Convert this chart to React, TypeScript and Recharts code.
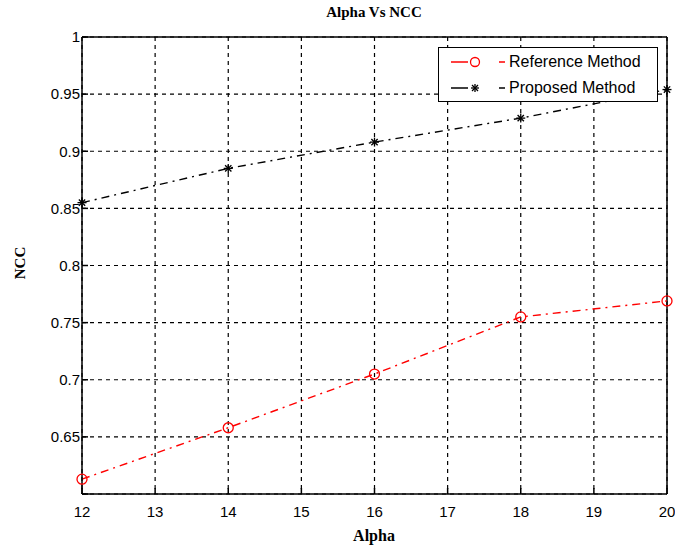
import React from 'react';
import { LineChart, Line, XAxis, YAxis, CartesianGrid, ReferenceLine, Legend } from 'recharts';

const alpha = [12, 14, 16, 18, 20];
const referenceMethod = [0.613, 0.658, 0.705, 0.755, 0.769];
const proposedMethod = [0.855, 0.885, 0.908, 0.929, 0.954];
const xTicks = [12, 13, 14, 15, 16, 17, 18, 19, 20];
const yTicks = [0.6, 0.65, 0.7, 0.75, 0.8, 0.85, 0.9, 0.95, 1];

const data = alpha.map((a, i) => ({ alpha: a, ref: referenceMethod[i], prop: proposedMethod[i] }));

const SANS = 'Liberation Sans, Arial, sans-serif';
const SERIF = 'Liberation Serif, Times New Roman, serif';

const CircleDot = (props: any) => {
  const { cx, cy } = props;
  if (cx == null || cy == null) return null;
  return <circle cx={cx} cy={cy} r={5} fill="none" stroke="#ff0000" strokeWidth={1.3} />;
};

const StarDot = (props: any) => {
  const { cx, cy } = props;
  if (cx == null || cy == null) return null;
  const r = 4.5;
  const d = r * 0.7;
  return (
    <g stroke="#000" strokeWidth={1.3}>
      <line x1={cx - r} y1={cy} x2={cx + r} y2={cy} />
      <line x1={cx} y1={cy - r} x2={cx} y2={cy + r} />
      <line x1={cx - d} y1={cy - d} x2={cx + d} y2={cy + d} />
      <line x1={cx - d} y1={cy + d} x2={cx + d} y2={cy - d} />
    </g>
  );
};

const LegendBox = () => (
  <div style={{ position: 'absolute', left: 438, top: 47, width: 220, height: 55, border: '1.5px solid #000', background: '#fff', fontFamily: SANS, fontSize: 16, color: '#000', boxSizing: 'border-box' }}>
    {[{ c: '#ff0000', t: 'Reference Method', m: 'o' }, { c: '#000', t: 'Proposed Method', m: '*' }].map((it, i) => (
      <div key={i} style={{ position: 'absolute', left: 10, top: 4 + i * 26, height: 20, display: 'flex', alignItems: 'center', whiteSpace: 'nowrap' }}>
        <svg width={60} height={20}>
          <line x1={2} y1={10} x2={19} y2={10} stroke={it.c} strokeWidth={1.5} />
          {it.m === 'o' ? (
            <circle cx={26} cy={10} r={4.5} fill="none" stroke={it.c} strokeWidth={1.3} />
          ) : (
            <g stroke={it.c} strokeWidth={1.3}>
              <line x1={22} y1={10} x2={30} y2={10} />
              <line x1={26} y1={6} x2={26} y2={14} />
              <line x1={23} y1={7} x2={29} y2={13} />
              <line x1={23} y1={13} x2={29} y2={7} />
            </g>
          )}
          <line x1={50} y1={10} x2={56} y2={10} stroke={it.c} strokeWidth={1.5} />
        </svg>
        <span>{it.t}</span>
      </div>
    ))}
  </div>
);

const fmt = (v: number) => (v === 0.6 ? '' : String(Number(v.toFixed(2))));

export default function App() {
  return (
    <div style={{ position: 'absolute', left: 0, top: 0, width: 675, height: 551, background: '#fff' }}>
      <LineChart width={675} height={551} data={data} margin={{ top: 37, right: 8, bottom: 0, left: 22 }}>
        <CartesianGrid stroke="#000" strokeDasharray="4 4" strokeWidth={1.2} vertical horizontal />
        <XAxis dataKey="alpha" type="number" domain={[12, 20]} ticks={xTicks} interval={0} height={57}
          stroke="#000" strokeWidth={1.5} tickSize={-6} tick={{ fill: '#000', fontSize: 15, fontFamily: SANS, dy: 16 }} />
        <YAxis type="number" domain={[0.6, 1]} ticks={yTicks} interval={0} width={60} tickFormatter={fmt}
          stroke="#000" strokeWidth={1.5} tickSize={-6} tick={{ fill: '#000', fontSize: 15, fontFamily: SANS, dx: -6 }} />
        <ReferenceLine y={1} stroke="#000" strokeWidth={1.5} />
        <ReferenceLine x={20} stroke="#000" strokeWidth={1.5} />
        <Line dataKey="ref" stroke="#ff0000" strokeWidth={1.4} strokeDasharray="8 5 2 5" dot={<CircleDot />} isAnimationActive={false} />
        <Line dataKey="prop" stroke="#000" strokeWidth={1.4} strokeDasharray="8 5 2 5" dot={<StarDot />} isAnimationActive={false} />
        <Legend content={() => null} />
      </LineChart>
      <div style={{ position: 'absolute', left: 274, top: 4, width: 200, textAlign: 'center', fontFamily: SERIF, fontSize: 15, fontWeight: 'bold' }}>Alpha Vs NCC</div>
      <div style={{ position: 'absolute', left: 274, top: 527, width: 200, textAlign: 'center', fontFamily: SERIF, fontSize: 16, fontWeight: 'bold' }}>Alpha</div>
      <div style={{ position: 'absolute', left: 20 - 50, top: 263 - 9, width: 100, height: 18, lineHeight: '18px', textAlign: 'center', fontFamily: SERIF, fontSize: 15, fontWeight: 'bold', transform: 'rotate(-90deg)' }}>NCC</div>
      <LegendBox />
    </div>
  );
}
